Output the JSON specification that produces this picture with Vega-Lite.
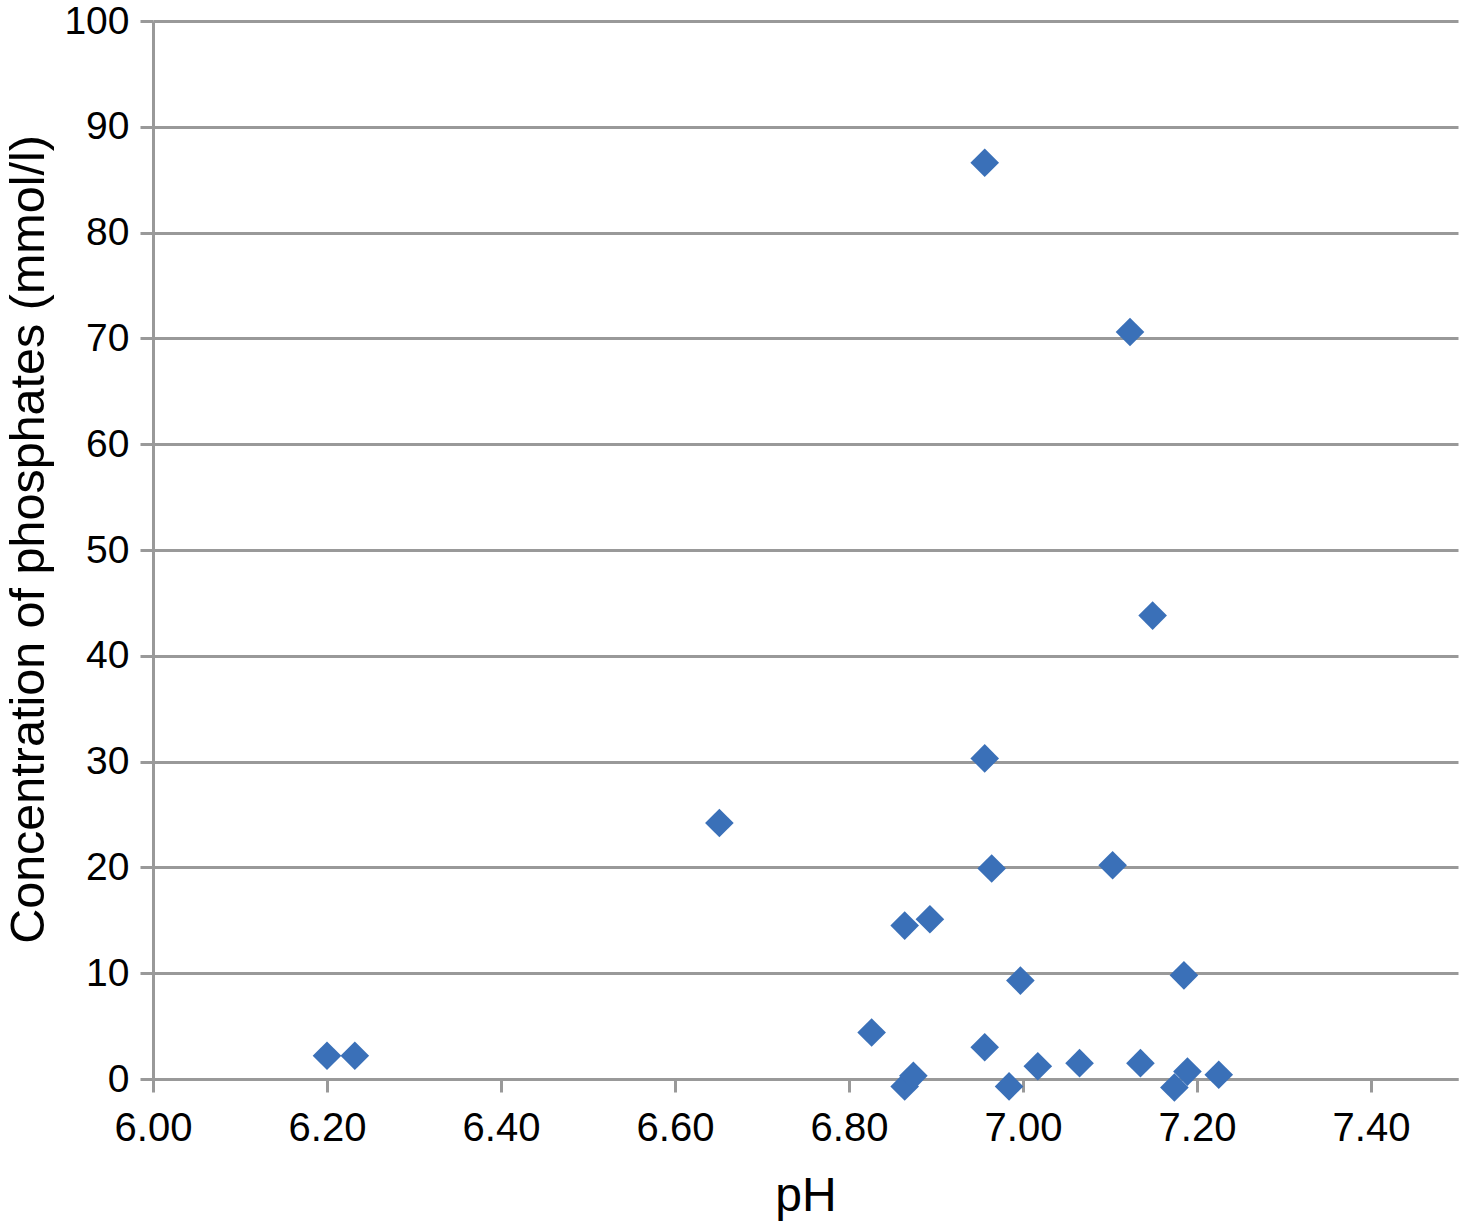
{
  "$schema": "https://vega.github.io/schema/vega-lite/v6.json",
  "autosize": {"type": "none"},
  "padding": {"left": 153, "top": 21, "right": 3, "bottom": 145},
  "width": 1305,
  "height": 1058,
  "background": "white",
  "config": {
    "view": {"stroke": null},
    "font": "Liberation Sans"
  },
  "data": {
    "values": [
      {"pH": 6.20, "phosphate": 2.2},
      {"pH": 6.232, "phosphate": 2.2},
      {"pH": 6.651, "phosphate": 24.2},
      {"pH": 6.826, "phosphate": 4.4},
      {"pH": 6.864, "phosphate": 14.5},
      {"pH": 6.893, "phosphate": 15.1},
      {"pH": 6.864, "phosphate": -0.7},
      {"pH": 6.874, "phosphate": 0.3},
      {"pH": 6.956, "phosphate": 86.6},
      {"pH": 6.956, "phosphate": 30.3},
      {"pH": 6.964, "phosphate": 19.9},
      {"pH": 6.956, "phosphate": 3.0},
      {"pH": 6.997, "phosphate": 9.3},
      {"pH": 6.984, "phosphate": -0.7},
      {"pH": 7.017, "phosphate": 1.2},
      {"pH": 7.065, "phosphate": 1.5},
      {"pH": 7.103, "phosphate": 20.2},
      {"pH": 7.123, "phosphate": 70.6},
      {"pH": 7.149, "phosphate": 43.8},
      {"pH": 7.135, "phosphate": 1.5},
      {"pH": 7.185, "phosphate": 9.8},
      {"pH": 7.174, "phosphate": -0.8},
      {"pH": 7.189, "phosphate": 0.7},
      {"pH": 7.225, "phosphate": 0.4}
    ]
  },
  "mark": {"type": "point", "shape": "diamond", "filled": true, "size": 820, "color": "#3a70b8", "opacity": 1},
  "encoding": {
    "x": {
      "field": "pH",
      "type": "quantitative",
      "scale": {"domain": [6.0, 7.5], "nice": false, "zero": false},
      "axis": {
        "title": "pH",
        "values": [6.0, 6.2, 6.4, 6.6, 6.8, 7.0, 7.2, 7.4],
        "format": ".2f",
        "grid": false,
        "domainColor": "#999999",
        "domainWidth": 3,
        "tickColor": "#999999",
        "tickWidth": 3,
        "tickSize": 13,
        "labelFont": "Liberation Sans",
        "labelFontSize": 40,
        "labelColor": "black",
        "labelPadding": 16,
        "labelFlush": false,
        "titleFont": "Liberation Sans",
        "titleFontSize": 48,
        "titleFontWeight": "normal",
        "titleColor": "black",
        "titlePadding": 24
      }
    },
    "y": {
      "field": "phosphate",
      "type": "quantitative",
      "scale": {"domain": [0, 100], "nice": false},
      "axis": {
        "title": "Concentration of phosphates (mmol/l)",
        "values": [0, 10, 20, 30, 40, 50, 60, 70, 80, 90, 100],
        "grid": true,
        "gridColor": "#999999",
        "gridWidth": 3,
        "domainColor": "#999999",
        "domainWidth": 3,
        "tickColor": "#999999",
        "tickWidth": 3,
        "tickSize": 13,
        "labelFont": "Liberation Sans",
        "labelFontSize": 39,
        "labelColor": "black",
        "labelPadding": 11,
        "labelFlush": false,
        "titleFont": "Liberation Sans",
        "titleFontSize": 48.5,
        "titleFontWeight": "normal",
        "titleColor": "black",
        "titlePadding": 10,
        "titleY": 518
      }
    }
  }
}
